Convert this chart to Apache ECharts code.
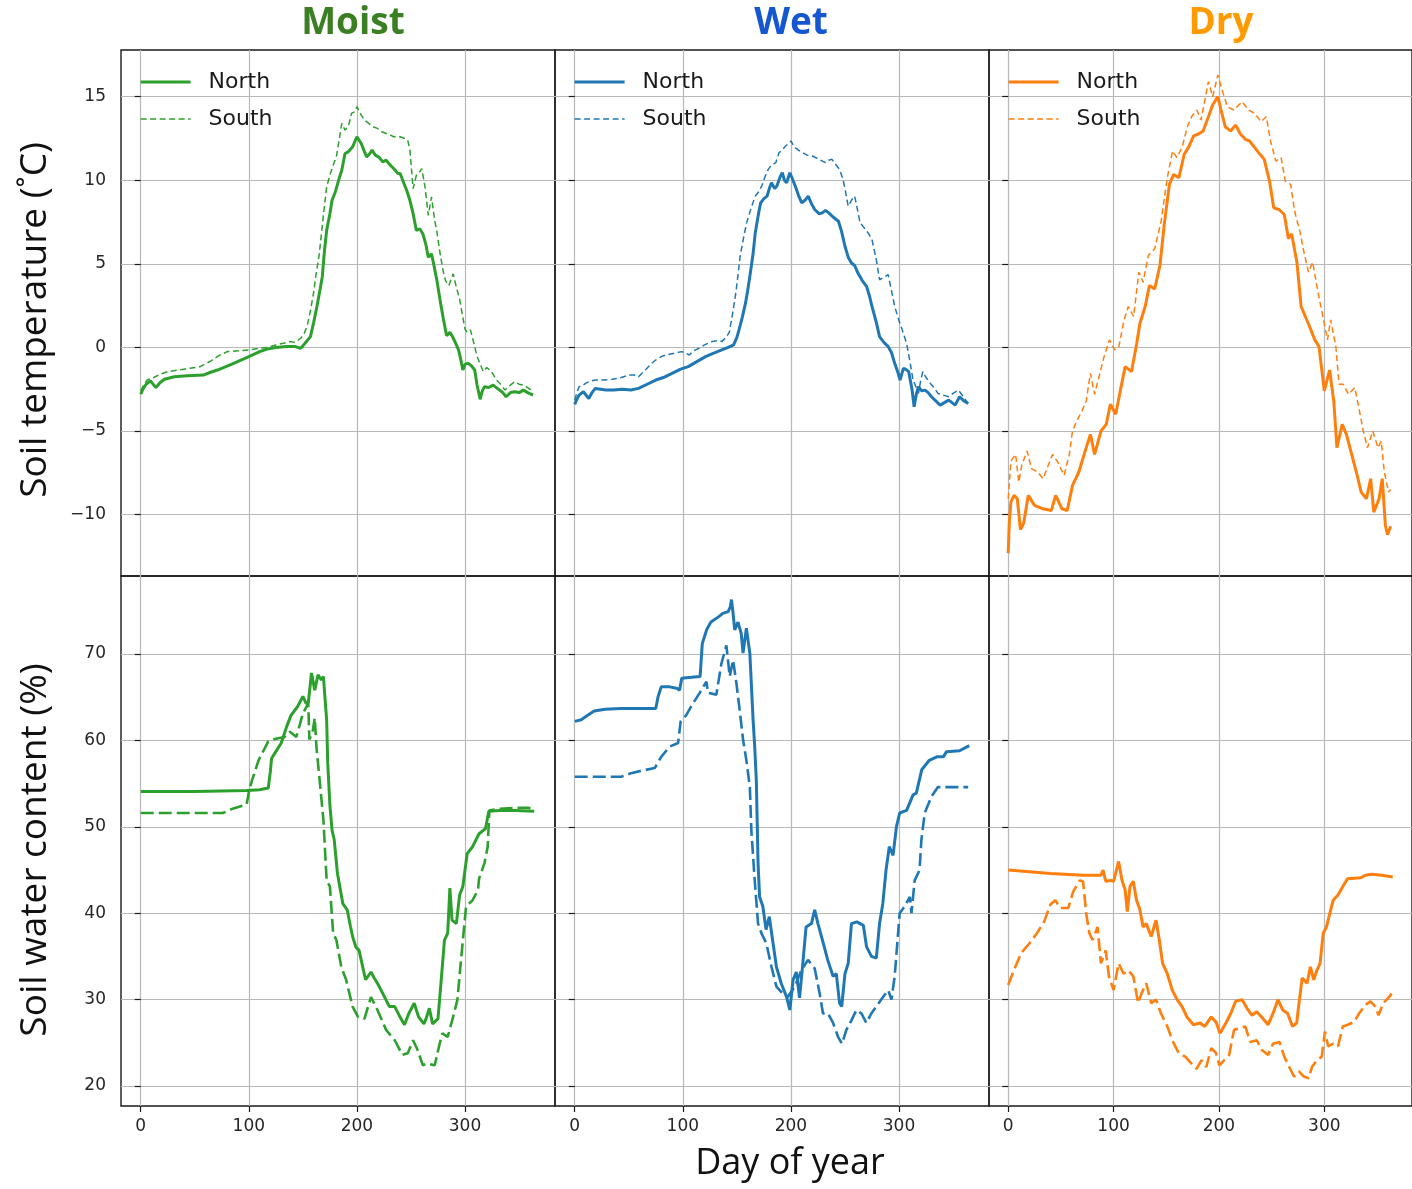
<!DOCTYPE html>
<html><head><meta charset="utf-8">
<script src="https://cdn.jsdelivr.net/npm/echarts@6/dist/echarts.min.js"></script>
<style>html,body{margin:0;padding:0;background:#fff}#c{width:1412px;height:1189px}</style>
</head><body><div id="c"></div>
<script>
// ---------- tick labels / categories ----------
const xTicks = [0, 100, 200, 300];
const tempTicks = [-10, -5, 0, 5, 10, 15];
const waterTicks = [20, 30, 40, 50, 60, 70];
const panelTitles = ['Moist', 'Wet', 'Dry'];
const seriesNames = ['North', 'South'];

// ---------- Soil temperature (°C): [day, value] ----------
const moistTempNorth = [[0,-2.8],[2,-2.5],[5,-2.2],[9,-2.0],[14,-2.4],[18,-2.1],[22,-1.9],[31,-1.75],[43,-1.7],[58,-1.65],[64,-1.5],[71,-1.35],[86,-0.95],[100,-0.55],[110,-0.25],[117,-0.1],[125,0.0],[135,0.05],[143,0.05],[148,-0.05],[152,0.25],[157,0.65],[160,1.5],[163,2.45],[166,3.5],[168,4.25],[170,5.8],[172,7.0],[175,8.0],[177,8.8],[180,9.3],[184,10.2],[186,10.6],[189,11.6],[192,11.7],[196,12.0],[198,12.3],[200,12.6],[204,12.2],[207,11.7],[209,11.4],[212,11.6],[214,11.8],[217,11.5],[220,11.4],[224,11.1],[227,11.2],[231,10.9],[234,10.7],[238,10.4],[240,10.4],[243,9.9],[246,9.4],[249,8.8],[252,8.0],[255,7.0],[258,7.1],[261,6.8],[264,6.1],[266,5.4],[269,5.6],[271,5.0],[274,4.0],[277,2.8],[280,1.7],[283,0.7],[286,0.9],[288,0.7],[291,0.3],[294,-0.15],[296,-0.7],[298,-1.35],[300,-1.0],[303,-0.95],[306,-1.1],[309,-1.35],[311,-2.2],[314,-3.1],[316,-2.6],[318,-2.35],[322,-2.4],[326,-2.25],[329,-2.4],[332,-2.55],[335,-2.7],[338,-2.95],[342,-2.7],[346,-2.65],[350,-2.7],[354,-2.55],[358,-2.7],[363,-2.85]];
const moistTempSouth = [[0,-2.6],[3,-2.2],[6,-1.95],[12,-1.8],[18,-1.6],[25,-1.45],[40,-1.3],[55,-1.15],[65,-0.8],[72,-0.5],[80,-0.25],[90,-0.2],[100,-0.15],[110,-0.05],[117,0.0],[125,0.15],[132,0.25],[138,0.35],[143,0.3],[148,0.55],[151,0.8],[154,1.3],[157,2.2],[160,3.3],[162,4.3],[165,5.5],[167,6.7],[169,7.9],[172,9.6],[175,10.3],[178,10.9],[181,11.4],[184,12.6],[186,13.4],[189,13.0],[192,13.2],[195,14.0],[198,14.1],[200,14.4],[204,13.9],[207,13.6],[211,13.4],[215,13.2],[219,13.1],[223,12.9],[227,12.8],[231,12.7],[234,12.6],[240,12.6],[244,12.5],[247,12.4],[249,11.8],[252,9.5],[255,10.3],[258,10.5],[260,10.7],[263,9.6],[266,7.9],[269,9.0],[272,7.6],[274,6.9],[277,5.6],[280,4.5],[282,4.0],[285,3.7],[289,4.4],[292,3.6],[295,2.9],[298,1.8],[300,1.1],[302,0.9],[305,1.05],[308,0.3],[311,-0.5],[314,-1.0],[317,-1.45],[320,-1.2],[323,-1.35],[326,-1.6],[329,-1.95],[333,-2.2],[337,-2.55],[341,-2.3],[346,-2.05],[350,-2.2],[354,-2.25],[358,-2.4],[363,-2.65]];
const wetTempNorth = [[0,-3.4],[2,-3.1],[4,-2.85],[8,-2.65],[13,-3.05],[16,-2.7],[19,-2.45],[24,-2.5],[29,-2.55],[36,-2.55],[44,-2.5],[52,-2.55],[59,-2.45],[67,-2.2],[75,-1.95],[82,-1.8],[90,-1.55],[98,-1.3],[105,-1.15],[113,-0.85],[121,-0.55],[128,-0.35],[136,-0.15],[142,0.0],[147,0.15],[150,0.6],[152,1.05],[155,1.8],[158,2.65],[160,3.4],[162,4.25],[165,5.6],[167,6.85],[170,8.0],[172,8.65],[175,8.9],[178,9.05],[180,9.5],[182,9.85],[185,9.5],[187,9.65],[190,10.2],[192,10.45],[194,10.0],[196,9.85],[199,10.45],[201,10.15],[204,9.65],[207,9.1],[210,8.65],[213,8.8],[216,9.05],[219,8.6],[222,8.25],[226,8.0],[229,8.05],[232,8.2],[235,8.05],[239,7.8],[244,7.55],[247,6.9],[250,6.05],[253,5.4],[256,5.05],[259,4.9],[262,4.45],[266,4.0],[270,3.65],[273,3.0],[275,2.45],[279,1.5],[282,0.65],[286,0.3],[290,0.05],[293,-0.3],[296,-0.95],[299,-1.5],[301,-1.95],[304,-1.25],[306,-1.3],[309,-1.45],[312,-2.5],[314,-3.55],[316,-2.8],[318,-2.35],[321,-2.6],[324,-2.55],[327,-2.7],[330,-2.95],[334,-3.2],[338,-3.45],[342,-3.3],[346,-3.15],[349,-3.3],[352,-3.45],[356,-2.95],[360,-3.2],[364,-3.35]];
const wetTempSouth = [[0,-3.15],[2,-2.7],[4,-2.35],[7,-2.3],[10,-2.15],[15,-2.0],[19,-1.95],[27,-1.95],[35,-1.9],[43,-1.8],[50,-1.65],[55,-1.65],[59,-1.75],[66,-1.3],[72,-0.9],[75,-0.75],[80,-0.55],[84,-0.45],[92,-0.35],[99,-0.25],[103,-0.35],[106,-0.45],[110,-0.2],[115,-0.05],[120,0.15],[127,0.35],[132,0.4],[136,0.35],[140,0.6],[143,0.9],[146,2.0],[149,3.25],[151,4.3],[153,5.45],[156,6.5],[159,7.45],[163,8.3],[167,9.05],[170,9.3],[173,9.65],[176,10.2],[179,10.65],[182,10.9],[186,11.05],[189,11.65],[192,11.8],[195,12.05],[198,12.2],[200,12.35],[203,12.0],[207,11.8],[211,11.65],[215,11.5],[220,11.45],[226,11.25],[232,11.05],[235,11.2],[238,11.25],[242,10.9],[245,10.65],[248,10.1],[250,9.5],[253,8.45],[256,8.8],[259,9.05],[262,8.1],[264,7.45],[266,7.3],[269,7.05],[272,6.8],[275,6.45],[279,5.25],[282,4.05],[286,4.2],[290,4.35],[293,3.4],[296,2.45],[300,1.6],[303,1.05],[307,0.25],[310,-0.8],[313,-1.95],[316,-2.4],[318,-2.75],[320,-2.0],[322,-1.45],[325,-1.8],[329,-2.15],[333,-2.45],[336,-2.75],[341,-2.85],[346,-2.95],[350,-2.75],[355,-2.55],[359,-2.9],[364,-3.35]];
const dryTempNorth = [[0,-12.3],[1,-10.5],[2.5,-9.25],[5.5,-8.85],[8.6,-9.05],[11.6,-10.9],[14.7,-10.5],[19,-8.85],[25,-9.45],[33,-9.65],[41,-9.75],[45,-8.85],[51,-9.65],[56,-9.75],[61,-8.25],[67,-7.45],[73,-6.2],[78,-5.2],[82,-6.4],[88,-5.0],[93,-4.6],[97,-3.4],[102,-4.0],[107,-2.4],[111,-1.15],[117,-1.45],[122,0.25],[125,1.45],[130,2.45],[134,3.7],[139,3.5],[144,4.9],[148,7.3],[153,9.75],[157,10.35],[162,10.15],[167,11.55],[171,11.95],[176,12.65],[180,12.75],[185,12.95],[190,13.8],[194,14.5],[199,15.0],[202,14.2],[206,13.2],[211,12.95],[216,13.3],[220,12.8],[225,12.45],[229,12.35],[234,11.95],[239,11.55],[243,11.25],[248,9.95],[252,8.35],[257,8.25],[262,7.95],[266,6.5],[269,6.8],[274,5.1],[278,2.45],[282,1.85],[286,1.25],[291,0.45],[295,0.05],[300,-2.6],[305,-1.35],[309,-3.2],[312,-6.0],[317,-4.6],[321,-5.2],[326,-6.4],[331,-7.6],[335,-8.65],[340,-9.05],[344,-7.85],[347,-9.85],[352,-9.05],[355,-7.85],[358,-10.65],[360,-11.2],[363,-10.7]];
const dryTempSouth = [[0,-9.05],[2.5,-6.8],[7,-6.4],[10,-8.05],[13,-7.0],[18,-6.2],[22,-7.25],[28,-7.45],[33,-7.85],[38,-7.05],[42,-6.4],[47,-6.85],[53,-7.65],[58,-6.4],[61,-5.0],[65,-4.4],[70,-3.8],[74,-3.2],[78,-1.55],[82,-2.8],[87,-1.55],[91,-0.55],[96,0.45],[101,-0.15],[105,0.05],[110,1.65],[114,2.45],[119,1.85],[124,4.5],[128,3.9],[133,5.5],[139,5.9],[145,7.5],[151,10.15],[156,11.75],[160,11.35],[165,11.95],[170,13.2],[174,13.8],[179,14.2],[183,13.6],[190,15.9],[194,15.0],[199,16.3],[202,15.6],[208,14.4],[214,14.2],[222,14.7],[228,14.2],[234,14.0],[240,13.5],[245,13.8],[249,12.35],[254,11.15],[259,11.35],[263,9.95],[268,9.75],[272,8.1],[277,6.9],[280,5.9],[285,4.5],[289,5.1],[294,3.3],[298,2.05],[303,0.45],[306,1.65],[311,0.05],[314,-2.2],[318,-2.2],[323,-2.8],[329,-2.4],[334,-4.0],[337,-5.0],[341,-6.0],[346,-5.0],[351,-6.0],[354,-5.6],[357,-7.45],[361,-8.65],[363,-8.5]];

// ---------- Soil water content (%): [day, value] ----------
const moistWaterNorth = [[0,54.1],[50,54.1],[98,54.2],[110,54.3],[118,54.5],[120,56.5],[121,57.9],[125,58.7],[130,59.7],[135,61.6],[139,62.9],[145,63.9],[150,65.1],[153,64.3],[155,64.3],[158,67.8],[161,65.8],[164,67.6],[167,67.0],[169,67.4],[171,64.0],[172,62.4],[173,57.4],[175,52.5],[177,49.6],[179,48.5],[182,44.6],[185,42.5],[187,41.1],[191,40.4],[194,38.5],[196,37.3],[199,36.1],[202,35.7],[205,34.0],[208,32.3],[213,33.2],[216,32.5],[219,31.9],[224,30.7],[230,29.2],[235,29.2],[239,28.2],[244,27.1],[248,28.4],[253,29.6],[257,28.0],[262,27.2],[264,27.8],[267,29.0],[270,27.2],[275,27.8],[278,32.3],[281,36.9],[284,37.7],[286,42.9],[288,39.2],[292,38.8],[295,42.1],[298,43.1],[302,46.9],[307,47.7],[313,49.2],[319,49.8],[322,51.8],[332,51.9],[347,51.9],[364,51.8]];
const moistWaterSouth = [[0,51.6],[40,51.6],[76,51.6],[85,52.1],[98,52.6],[100,54.0],[103,55.4],[109,57.7],[118,59.9],[125,60.2],[133,60.4],[138,61.0],[144,60.4],[150,63.1],[155,64.3],[156,60.1],[159,61.0],[161,62.6],[162.5,59.3],[165.5,55.4],[169,50.8],[172,43.8],[175,43.1],[178,37.7],[181,36.9],[185.5,33.8],[190,32.3],[196,29.2],[201,28.0],[207,27.8],[213,30.3],[219,28.8],[227,26.5],[235,25.3],[242,23.6],[247,23.8],[252,25.3],[256,24.2],[261,22.4],[265,22.6],[272,22.4],[276,24.6],[279,26.1],[284,25.7],[289,28.0],[293,30.0],[296,34.2],[301,40.8],[307,41.5],[312,42.7],[313,44.0],[318,45.8],[321,47.7],[322.5,51.9],[332,52.1],[347,52.2],[359,52.2],[364,51.9]];
const wetWaterNorth = [[0,62.2],[6,62.4],[12,62.9],[18,63.4],[28,63.6],[43,63.7],[58,63.7],[75,63.7],[77,65.0],[80,66.2],[88,66.2],[95,66.0],[97,65.8],[99,67.2],[108,67.3],[116,67.4],[118,71.2],[122,72.8],[126,73.7],[133,74.3],[137,74.7],[142,74.9],[144,75.5],[145,76.3],[146.5,74.7],[148,72.8],[151,73.7],[154,72.4],[155.7,70.1],[158.8,73.0],[162,70.1],[165,62.4],[166.5,59.3],[168,55.4],[169.6,45.8],[171,41.9],[174,40.8],[177,38.1],[180,39.6],[183.5,36.5],[186.6,33.8],[191,31.9],[196,30.3],[199,28.8],[202,32.3],[205,33.2],[208,30.2],[211,34.2],[214,38.4],[219,38.8],[222,40.4],[225,38.8],[230,36.5],[234,34.6],[239,32.7],[242,33.0],[245,29.6],[247,29.2],[250,33.0],[253,34.2],[256,38.8],[261,39.0],[267,38.6],[270,36.1],[274.5,35.0],[279,34.8],[282,38.8],[285,41.1],[288,45.0],[291,47.7],[294.5,46.7],[297.6,50.0],[300.6,51.6],[307,51.9],[313,53.7],[316,53.9],[321,56.6],[328,57.7],[335,58.1],[341,58.1],[344,58.7],[356,58.8],[365,59.4]];
const wetWaterSouth = [[0,55.8],[43,55.8],[52,56.2],[62,56.5],[74,56.8],[80,58.1],[88,59.3],[95.6,59.7],[98,62.2],[103,62.9],[109.5,64.3],[115.6,65.5],[121.8,66.8],[123.3,65.5],[131,65.3],[135.7,68.9],[140.3,71.0],[143.4,67.4],[146.5,69.3],[149.6,66.6],[152.6,63.5],[155.7,60.1],[158.8,57.7],[162,54.6],[163.4,49.6],[166.5,43.8],[169.6,38.8],[172.7,37.7],[177.3,36.5],[182,33.8],[186.6,31.5],[191,30.9],[197,30.3],[203.5,31.5],[209.7,33.4],[215.8,34.6],[222,33.6],[226.6,30.7],[229.7,28.4],[234.3,28.4],[239,27.3],[243.6,25.7],[247.3,24.9],[251.3,26.5],[256,27.6],[260.6,28.8],[265.2,28.4],[269.8,27.3],[274.4,28.4],[279,29.2],[285.2,30.3],[290,31.1],[293,30.0],[296,32.7],[300.6,40.0],[305.3,40.8],[310,41.9],[311.5,40.0],[314.5,43.8],[319,45.0],[320.7,48.5],[323.8,51.6],[330,53.5],[336,54.6],[351.5,54.6],[364,54.6]];
const dryWaterNorth = [[0,45.0],[40,44.6],[71,44.4],[88,44.4],[90,45.0],[92.5,43.7],[97,43.8],[100,43.7],[104.8,46.0],[108,43.8],[111,42.7],[113,40.2],[115.6,43.1],[118.7,43.7],[121.8,41.5],[125,40.4],[128,38.4],[131,38.8],[135.7,37.3],[140.3,39.2],[143.4,36.9],[146.5,34.2],[151,33.0],[155.7,31.1],[160.3,30.0],[165,29.2],[169.6,28.0],[175.8,27.1],[182,27.3],[186.6,26.9],[192.7,28.0],[197.3,27.4],[201,26.1],[206.6,27.3],[211.2,28.4],[215.8,29.8],[222,30.0],[226.6,29.0],[231.3,28.2],[235.9,28.6],[240.5,28.0],[246.7,27.1],[251.3,28.4],[256,30.0],[260.6,28.8],[265.2,28.4],[269.8,26.9],[273.8,27.3],[276,29.6],[279,32.5],[283.7,31.9],[286.8,33.8],[290,32.3],[293,33.4],[296,34.2],[299,37.7],[302,38.4],[305.3,40.0],[308.4,41.5],[313,42.1],[317.6,43.1],[322,44.0],[334.6,44.1],[339,44.4],[345.4,44.5],[354.6,44.4],[365,44.2]];
const dryWaterSouth = [[0,31.7],[6,33.6],[12.3,35.4],[20,36.5],[26.2,37.5],[34,39.0],[40,41.0],[44.7,41.5],[49.3,40.6],[57,40.6],[61.7,42.5],[67.8,43.8],[71,43.7],[74,40.0],[77,37.7],[80,36.9],[84.8,38.4],[88,34.2],[92.5,35.7],[95.6,32.7],[100,31.1],[104.8,34.2],[109.5,33.0],[114,33.4],[118.7,32.7],[123.3,29.6],[126.4,30.7],[131,31.9],[135.7,29.6],[140.3,30.0],[145,28.4],[151,26.9],[155.7,25.3],[161.9,23.8],[168,23.4],[174,22.6],[178.8,22.0],[183.5,23.0],[188,22.2],[192.7,24.4],[197.3,23.8],[200.4,22.4],[205,23.0],[209.7,23.6],[214.3,26.5],[220.5,26.7],[225,26.9],[229.7,25.1],[235.9,25.3],[240.5,24.2],[246.7,23.6],[251.3,24.9],[257.5,25.1],[262,23.4],[266.7,22.2],[271.3,21.1],[276,21.7],[280.6,21.1],[285.2,20.9],[288.3,22.2],[293,23.0],[297.6,23.4],[300.6,26.3],[303.7,24.6],[308.4,24.9],[313,24.6],[317.6,26.9],[322.2,27.1],[328.4,27.4],[333,28.4],[339,29.4],[343.8,29.8],[348.4,29.2],[351.5,28.2],[356,29.6],[360.8,30.2],[364,30.7]];

// ---------- layout / style ----------
const colLeft = [121, 555, 989];
const colWidth = 434;
const rowTop = [50, 576];
const rowHeight = [526, 530];
const lineColors = ['#2ca02c', '#1f77b4', '#ff7f0e'];
const titleColors = ['#3b7f23', '#1557d0', '#ff9a00'];
const titleX = [353, 791, 1221];
const tempData = [[moistTempNorth, moistTempSouth], [wetTempNorth, wetTempSouth], [dryTempNorth, dryTempSouth]];
const waterData = [[moistWaterNorth, moistWaterSouth], [wetWaterNorth, wetWaterSouth], [dryWaterNorth, dryWaterSouth]];

const grids = [], xAxes = [], yAxes = [], series = [], legends = [], graphics = [];
const tickFont = { fontFamily: 'DejaVu Sans', fontSize: 17, color: '#262626' };
const fmt = v => String(v).replace('-', '\u2212');
const hiddenSymbol = { color: 'rgba(0,0,0,0)', borderColor: 'rgba(0,0,0,0)', borderWidth: 0, opacity: 0 };

for (let r = 0; r < 2; r++) {
  for (let c = 0; c < 3; c++) {
    const gi = grids.length;
    grids.push({ left: colLeft[c], top: rowTop[r], width: colWidth, height: rowHeight[r],
      show: true, borderColor: '#1a1a1a', borderWidth: 1.4, backgroundColor: 'transparent', containLabel: false });
    xAxes.push({ type: 'value', gridIndex: gi, min: -18.25, max: 383.25,
      axisLine: { show: false },
      axisTick: { show: r === 1, customValues: xTicks, length: 6, inside: false, lineStyle: { color: '#1a1a1a', width: 1.2 } },
      axisLabel: { show: r === 1, customValues: xTicks, margin: 12, ...tickFont, formatter: v => xTicks.includes(v) ? fmt(v) : '' },
      splitLine: { show: true, lineStyle: { color: '#b8b8b8', width: 1.2 } } });
    const ticks = r === 0 ? tempTicks : waterTicks;
    yAxes.push({ type: 'value', gridIndex: gi,
      min: r === 0 ? -13.67 : 17.69, max: r === 0 ? 17.79 : 79.03,
      axisLine: { show: false },
      axisTick: { show: true, customValues: ticks, length: 6, inside: false, lineStyle: { color: '#1a1a1a', width: 1.2 } },
      axisLabel: { show: c === 0, customValues: ticks, margin: 15, ...tickFont, formatter: v => ticks.includes(v) ? fmt(v) : '' },
      splitLine: { show: true, lineStyle: { color: '#b8b8b8', width: 1.2 } } });
    const pair = r === 0 ? tempData[c] : waterData[c];
    const nameN = panelTitles[c] + ' ' + seriesNames[0] + (r === 0 ? '' : ' w');
    const nameS = panelTitles[c] + ' ' + seriesNames[1] + (r === 0 ? '' : ' w');
    series.push({ type: 'line', name: nameN, xAxisIndex: gi, yAxisIndex: gi, data: pair[0],
      symbol: 'none', showSymbol: false, animation: false, z: 3,
      lineStyle: { color: lineColors[c], width: 3, type: 'solid' }, itemStyle: { color: lineColors[c] } });
    series.push({ type: 'line', name: nameS, xAxisIndex: gi, yAxisIndex: gi, data: pair[1],
      symbol: 'none', showSymbol: false, animation: false, z: 2,
      lineStyle: r === 0 ? { color: lineColors[c], width: 1.5, type: [6, 3.5] } : { color: lineColors[c], width: 2.6, type: [13, 5] },
      itemStyle: { color: lineColors[c] } });
    if (r === 0) {
      legends.push({ orient: 'vertical', left: colLeft[c] + 18, top: 71, padding: 0, selectedMode: false,
        itemWidth: 50, itemHeight: 22, itemGap: 15,
        formatter: n => n.split(' ')[1],
        textStyle: { fontFamily: 'DejaVu Sans', fontSize: 22, color: '#1a1a1a', lineHeight: 22, padding: [0, 0, 0, 13] },
        data: [
          { name: nameN, itemStyle: hiddenSymbol, lineStyle: { width: 3.2, type: 'solid', color: lineColors[c] } },
          { name: nameS, itemStyle: hiddenSymbol, lineStyle: { width: 1.5, type: [6, 3.5], color: lineColors[c] } }
        ] });
      graphics.push({ type: 'text', x: titleX[c], y: 23, z: 10,
        style: { text: panelTitles[c], fill: titleColors[c], font: 'bold 37px "Open Sans"', align: 'center', verticalAlign: 'middle' } });
    }
  }
}
graphics.push({ type: 'text', x: 35, y: 320, rotation: Math.PI / 2,
  style: { text: 'Soil temperature (\u02daC)', fill: '#111', font: '37px "Open Sans"', align: 'center', verticalAlign: 'middle' } });
graphics.push({ type: 'text', x: 35, y: 850, rotation: Math.PI / 2,
  style: { text: 'Soil water content (%)', fill: '#111', font: '37px "Open Sans"', align: 'center', verticalAlign: 'middle' } });
graphics.push({ type: 'text', x: 790, y: 1164,
  style: { text: 'Day of year', fill: '#111', font: '36px "Open Sans"', align: 'center', verticalAlign: 'middle' } });

const chart = echarts.init(document.getElementById('c'), null, { renderer: 'canvas' });
chart.setOption({
  animation: false,
  backgroundColor: '#ffffff',
  grid: grids, xAxis: xAxes, yAxis: yAxes, series: series, legend: legends, graphic: graphics
});
</script></body></html>
